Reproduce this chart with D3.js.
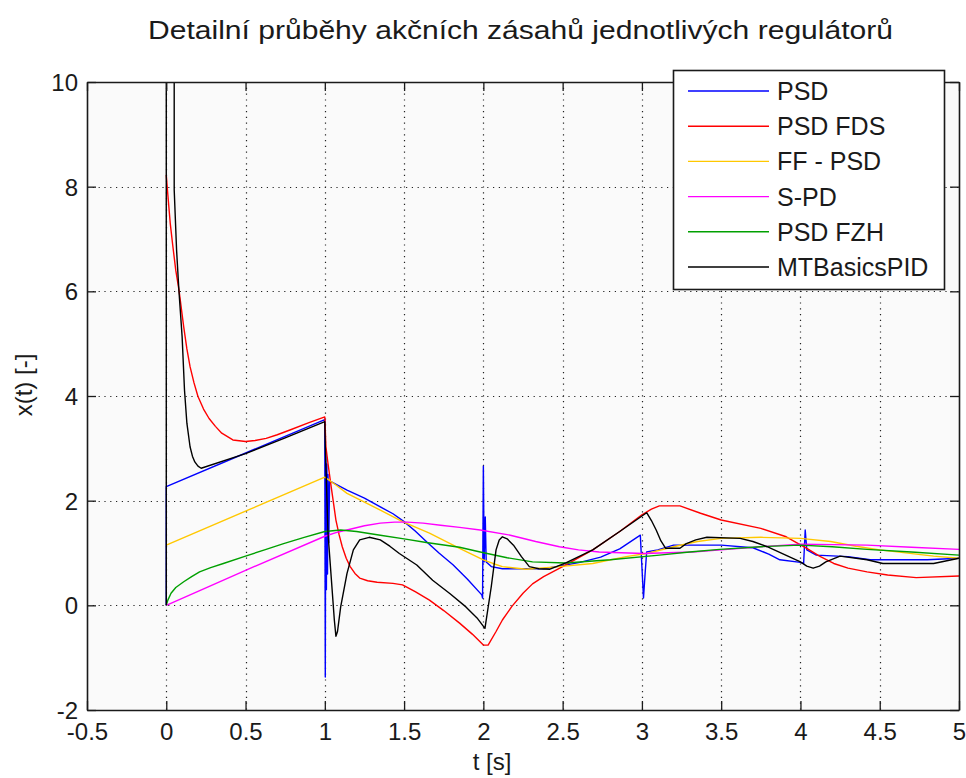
<!DOCTYPE html>
<html>
<head>
<meta charset="utf-8">
<script src="https://cdn.jsdelivr.net/npm/d3@7"></script>
<style>
  html, body { margin: 0; padding: 0; background: #ffffff; }
  svg { display: block; }
  text { font-family: "Liberation Sans", Arial, sans-serif; fill: #1a1a1a; }
</style>
</head>
<body>
<svg id="chart" width="966" height="778"></svg>
<script>
// ---------------- DATA ----------------
const titleText = "Detailní průběhy akčních zásahů jednotlivých regulátorů";
const xLabelText = "t [s]";
const yLabelText = "x(t) [-]";
const xTicks = [-0.5, 0, 0.5, 1, 1.5, 2, 2.5, 3, 3.5, 4, 4.5, 5];
const yTicks = [-2, 0, 2, 4, 6, 8, 10];
const seriesNames = ["PSD", "PSD FDS", "FF - PSD", "S-PD", "PSD FZH", "MTBasicsPID"];
const seriesColors = ["#0000ff", "#ff0000", "#ffc800", "#ff00ff", "#00a000", "#000000"];

const psd = [[0,0],[0,2.27],[1.0,3.55],[1.0,3.0],[1.003,-1.37],[1.006,2.9],[1.01,0.3],[1.013,2.7],[1.017,0.6],[1.02,2.5],[1.025,1.2],[1.03,2.38],[1.14,2.2],[1.25,2.05],[1.35,1.88],[1.43,1.75],[1.5,1.6],[1.57,1.42],[1.64,1.22],[1.72,1.0],[1.81,0.77],[1.9,0.5],[1.99,0.2],[1.995,0.14],[2.0,2.66],[2.005,0.83],[2.012,1.69],[2.018,0.83],[2.05,0.74],[2.12,0.7],[2.38,0.7],[2.48,0.75],[2.61,0.82],[2.74,0.92],[2.86,1.08],[2.99,1.34],[3.0,0.74],[3.01,0.14],[3.02,0.6],[3.03,1.02],[3.1,1.06],[3.2,1.15],[3.5,1.15],[3.7,1.1],[3.8,0.98],[3.87,0.87],[4.0,0.82],[4.02,0.8],[4.03,1.44],[4.04,1.06],[4.1,0.96],[4.3,0.93],[4.44,0.87],[4.8,0.87],[5.0,0.9]];
const psdFds = [[0,8.22],[0.01,7.84],[0.025,7.3],[0.04,6.9],[0.06,6.4],[0.08,6.03],[0.11,5.32],[0.13,4.9],[0.15,4.56],[0.175,4.25],[0.2,3.99],[0.235,3.75],[0.27,3.57],[0.31,3.42],[0.35,3.29],[0.42,3.16],[0.5,3.13],[0.56,3.15],[0.63,3.19],[0.7,3.26],[0.78,3.35],[0.9,3.49],[1.0,3.6],[1.007,3.03],[1.02,2.71],[1.04,2.27],[1.07,1.63],[1.09,1.35],[1.11,1.12],[1.135,0.9],[1.16,0.74],[1.19,0.61],[1.22,0.52],[1.27,0.47],[1.33,0.44],[1.43,0.42],[1.49,0.39],[1.57,0.26],[1.66,0.1],[1.75,-0.1],[1.85,-0.34],[1.93,-0.55],[2.0,-0.76],[2.03,-0.76],[2.08,-0.5],[2.12,-0.28],[2.18,-0.02],[2.25,0.23],[2.31,0.41],[2.38,0.55],[2.5,0.74],[2.69,1.06],[2.86,1.41],[3.0,1.73],[3.06,1.84],[3.11,1.9],[3.24,1.9],[3.37,1.76],[3.5,1.63],[3.75,1.47],[3.91,1.31],[4.04,1.09],[4.12,0.94],[4.21,0.8],[4.3,0.71],[4.42,0.64],[4.55,0.58],[4.73,0.53],[5.0,0.56]];
const ffPsd = [[0,1.15],[1.0,2.45],[1.07,2.3],[1.14,2.14],[1.25,1.97],[1.35,1.82],[1.49,1.6],[1.66,1.38],[1.85,1.09],[2.0,0.87],[2.06,0.8],[2.12,0.74],[2.27,0.69],[2.48,0.74],[2.69,0.8],[2.9,0.93],[3.03,0.99],[3.2,1.12],[3.35,1.22],[3.5,1.28],[3.75,1.3],[4.0,1.28],[4.19,1.22],[4.35,1.13],[4.5,1.06],[4.84,0.94],[5.0,0.9]];
const sPd = [[0,0],[0.5,0.67],[1.0,1.32],[1.07,1.39],[1.14,1.44],[1.25,1.52],[1.35,1.57],[1.44,1.59],[1.52,1.59],[1.62,1.57],[1.73,1.53],[1.85,1.49],[1.98,1.44],[2.17,1.34],[2.33,1.22],[2.48,1.12],[2.6,1.06],[2.73,1.02],[3.01,0.99],[3.32,1.02],[3.5,1.06],[3.75,1.12],[4.0,1.17],[4.42,1.15],[4.7,1.11],[5.0,1.07]];
const psdFzh = [[0,0],[0.01,0.1],[0.03,0.23],[0.06,0.34],[0.11,0.45],[0.16,0.55],[0.21,0.64],[0.28,0.72],[0.36,0.8],[0.5,0.94],[0.62,1.06],[0.74,1.18],[0.87,1.3],[1.0,1.41],[1.1,1.44],[1.2,1.41],[1.35,1.34],[1.5,1.27],[1.64,1.2],[1.85,1.11],[1.98,1.02],[2.15,0.91],[2.31,0.83],[2.52,0.81],[2.8,0.87],[3.11,0.96],[3.3,1.02],[3.49,1.07],[3.75,1.12],[4.0,1.15],[4.2,1.12],[4.42,1.07],[4.7,1.02],[5.0,0.96]];
const mtBasicsPid = [[0,0],[0,10],[0.05,10],[0.05,7.94],[0.065,6.79],[0.08,6.0],[0.1,5.13],[0.115,4.11],[0.13,3.48],[0.15,3.03],[0.165,2.85],[0.18,2.74],[0.2,2.66],[0.22,2.62],[0.5,2.9],[0.75,3.2],[1.0,3.51],[1.003,3.03],[1.02,1.38],[1.04,0.55],[1.06,-0.28],[1.07,-0.59],[1.08,-0.5],[1.1,-0.03],[1.14,0.61],[1.18,1.06],[1.22,1.25],[1.28,1.3],[1.35,1.25],[1.41,1.13],[1.47,0.99],[1.58,0.77],[1.68,0.48],[1.79,0.22],[1.89,-0.03],[1.96,-0.24],[2.01,-0.44],[2.05,0.36],[2.08,1.06],[2.1,1.25],[2.12,1.31],[2.15,1.27],[2.19,1.15],[2.24,0.93],[2.29,0.74],[2.35,0.7],[2.42,0.69],[2.52,0.81],[2.69,1.06],[2.86,1.41],[3.03,1.77],[3.06,1.62],[3.09,1.44],[3.12,1.23],[3.15,1.09],[3.24,1.09],[3.28,1.18],[3.34,1.25],[3.41,1.3],[3.62,1.28],[3.7,1.22],[3.79,1.12],[3.9,0.97],[4.0,0.83],[4.04,0.75],[4.08,0.71],[4.12,0.75],[4.16,0.83],[4.25,0.94],[4.42,0.87],[4.52,0.8],[4.84,0.8],[5.0,0.9]];

const seriesData = [psd, psdFds, ffPsd, sPd, psdFzh, mtBasicsPid];

// ---------------- LAYOUT ----------------
const L = 87, R = 959, T = 82, B = 710;
const svg = d3.select("#chart");
const x = d3.scaleLinear().domain([-0.5, 5]).range([L, R]);
const y = d3.scaleLinear().domain([-2, 10]).range([B, T]);

svg.append("rect").attr("x", 0).attr("y", 0).attr("width", 966).attr("height", 778).attr("fill", "#ffffff");
svg.append("rect").attr("x", L).attr("y", T).attr("width", R - L).attr("height", B - T).attr("fill", "#fafafa");

svg.append("defs").append("clipPath").attr("id", "clip")
  .append("rect").attr("x", L).attr("y", T).attr("width", R - L).attr("height", B - T);

// grid
const grid = svg.append("g").attr("stroke", "#222").attr("stroke-width", 1.2).attr("stroke-dasharray", "1.2,4.6");
grid.selectAll(".gx").data(xTicks.slice(1, -1)).join("line")
  .attr("x1", d => Math.round(x(d)) + 0.5).attr("x2", d => Math.round(x(d)) + 0.5)
  .attr("y1", T).attr("y2", B);
grid.selectAll(".gy").data(yTicks.slice(1, -1).concat([10])).join("line")
  .attr("x1", L).attr("x2", R)
  .attr("y1", d => Math.round(y(d)) + 0.5).attr("y2", d => Math.round(y(d)) + 0.5);

// lines
const line = d3.line().x(d => x(d[0])).y(d => y(d[1])).curve(d3.curveLinear);
const plot = svg.append("g").attr("clip-path", "url(#clip)");
seriesData.forEach((s, i) => {
  plot.append("path").datum(s).attr("d", line)
    .attr("fill", "none").attr("stroke", seriesColors[i]).attr("stroke-width", 1.4)
    .attr("stroke-linejoin", "round");
});

// axes
const fmt = d => String(d);
const axB = svg.append("g").attr("transform", `translate(0,${B})`)
  .call(d3.axisBottom(x).tickValues(xTicks).tickFormat(fmt).tickSizeInner(-9).tickSizeOuter(0).tickPadding(12));
const axT = svg.append("g").attr("transform", `translate(0,${T})`)
  .call(d3.axisTop(x).tickValues(xTicks).tickFormat("").tickSizeInner(-9).tickSizeOuter(0));
const axL = svg.append("g").attr("transform", `translate(${L},0)`)
  .call(d3.axisLeft(y).tickValues(yTicks).tickFormat(fmt).tickSizeInner(-9).tickSizeOuter(0).tickPadding(10));
const axR = svg.append("g").attr("transform", `translate(${R},0)`)
  .call(d3.axisRight(y).tickValues(yTicks).tickFormat("").tickSizeInner(-9).tickSizeOuter(0));
[axB, axT, axL, axR].forEach(g => {
  g.select(".domain").attr("stroke", "#1a1a1a").attr("stroke-width", 1.6);
  g.selectAll(".tick line").attr("stroke", "#1a1a1a").attr("stroke-width", 1.3);
  g.selectAll("text").attr("font-size", 24).attr("font-family", "Liberation Sans, Arial, sans-serif").attr("fill", "#1a1a1a");
});
axB.selectAll("text").attr("dy", null).attr("y", 30);
axL.selectAll("text").attr("dy", "0.36em").attr("x", -9);

// title & labels
svg.append("text").attr("x", 520.5).attr("y", 38.5).attr("text-anchor", "middle")
  .attr("font-size", 25.5).attr("textLength", 745).attr("lengthAdjust", "spacingAndGlyphs").text(titleText);
svg.append("text").attr("x", 492).attr("y", 770).attr("text-anchor", "middle")
  .attr("font-size", 24).text(xLabelText);
svg.append("text").attr("transform", "translate(32,385) rotate(-90)").attr("text-anchor", "middle")
  .attr("font-size", 24).text(yLabelText);

// legend
const lg = svg.append("g");
lg.append("rect").attr("x", 673.5).attr("y", 70.5).attr("width", 271).attr("height", 219)
  .attr("fill", "#ffffff").attr("stroke", "#1a1a1a").attr("stroke-width", 1.6);
const rowY = d3.scalePoint().domain(seriesNames).range([91, 267]);
seriesNames.forEach((n, i) => {
  const yy = rowY(n);
  lg.append("line").attr("x1", 688).attr("x2", 769).attr("y1", yy).attr("y2", yy)
    .attr("stroke", seriesColors[i]).attr("stroke-width", 1.4);
  lg.append("text").attr("x", 777).attr("y", yy).attr("dy", "0.36em")
    .attr("font-size", 25).text(n);
});
</script>
</body>
</html>
